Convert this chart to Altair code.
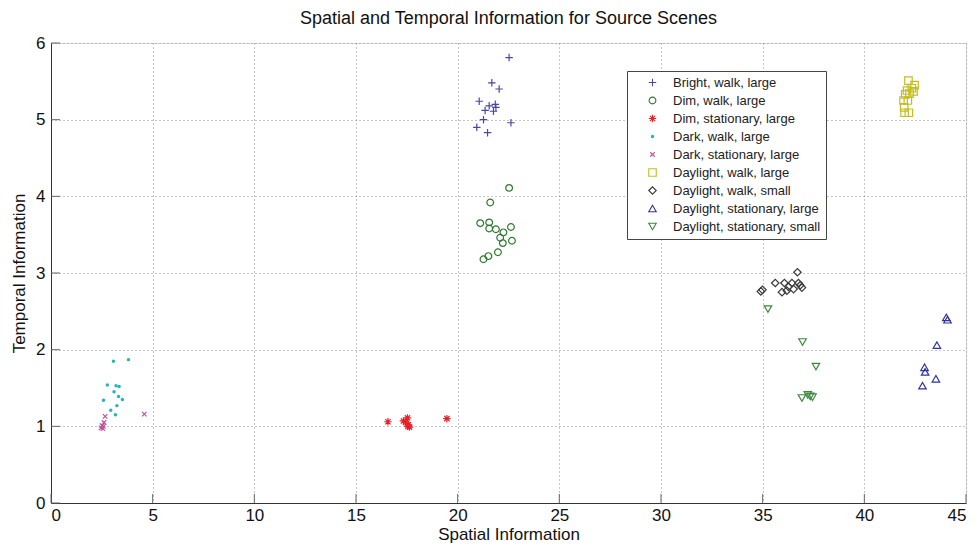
import altair as alt
import pandas as pd

series_names = [
    "Bright, walk, large",
    "Dim, walk, large",
    "Dim, stationary, large",
    "Dark, walk, large",
    "Dark, stationary, large",
    "Daylight, walk, large",
    "Daylight, walk, small",
    "Daylight, stationary, large",
    "Daylight, stationary, small",
]

bright_walk_x = [22.53, 21.68, 22.04, 21.06, 21.55, 21.85, 21.88, 21.35, 21.76, 21.27, 22.62, 20.94, 21.47]
bright_walk_y = [5.81, 5.48, 5.40, 5.24, 5.18, 5.20, 5.16, 5.12, 5.11, 5.00, 4.96, 4.90, 4.83]

dim_walk_x = [22.53, 21.60, 21.11, 21.55, 21.55, 21.88, 22.62, 22.25, 22.09, 22.67, 22.22, 21.98, 21.51, 21.27]
dim_walk_y = [4.11, 3.92, 3.65, 3.66, 3.58, 3.57, 3.60, 3.53, 3.46, 3.42, 3.39, 3.27, 3.22, 3.18]

dim_stat_x = [16.57, 17.33, 17.53, 17.45, 17.58, 17.63, 17.55, 19.47]
dim_stat_y = [1.06, 1.07, 1.11, 1.05, 1.02, 0.99, 1.00, 1.10]

dark_walk_x = [3.07, 3.81, 2.77, 3.20, 3.35, 3.10, 3.32, 3.51, 2.58, 3.24, 2.94, 3.17]
dark_walk_y = [1.85, 1.87, 1.54, 1.53, 1.52, 1.45, 1.39, 1.35, 1.34, 1.27, 1.21, 1.15]

dark_stat_x = [2.66, 2.61, 2.51, 2.46, 2.55, 2.58, 4.59]
dark_stat_y = [1.13, 1.05, 1.01, 0.98, 0.97, 1.00, 1.16]

day_walk_large_x = [42.17, 42.47, 42.34, 42.10, 42.42, 42.22, 42.01, 41.93, 42.14, 41.96, 41.98, 42.19]
day_walk_large_y = [5.51, 5.45, 5.41, 5.38, 5.37, 5.34, 5.33, 5.25, 5.25, 5.16, 5.09, 5.09]

day_walk_small_x = [36.71, 35.62, 36.07, 36.44, 36.76, 36.85, 36.27, 36.52, 35.95, 36.19, 34.91, 34.99, 36.93]
day_walk_small_y = [3.01, 2.87, 2.87, 2.87, 2.87, 2.84, 2.82, 2.79, 2.75, 2.77, 2.76, 2.78, 2.81]

day_stat_large_x = [44.03, 44.09, 43.57, 42.96, 42.99, 43.52, 42.86]
day_stat_large_y = [2.42, 2.39, 2.06, 1.77, 1.71, 1.62, 1.53]

day_stat_small_x = [35.26, 36.96, 37.62, 36.93, 37.22, 37.34, 37.45]
day_stat_small_y = [2.53, 2.10, 1.78, 1.37, 1.41, 1.39, 1.38]

x_ticks = [0, 5, 10, 15, 20, 25, 30, 35, 40, 45]
y_ticks = [0, 1, 2, 3, 4, 5, 6]

colors = ["#4848a8", "#2f7a2f", "#e8202a", "#1fb5b5", "#c0509a",
          "#c4bd1e", "#3a3a3a", "#3232a0", "#3b8a3b"]
shapes = [
    "M-1,0L1,0M0,-1L0,1",
    "M-0.9,0A0.9,0.9 0 1,0 0.9,0A0.9,0.9 0 1,0 -0.9,0Z",
    "M-1,0L1,0M0,-1L0,1M-0.7,-0.7L0.7,0.7M-0.7,0.7L0.7,-0.7",
    "M-0.3,0A0.3,0.3 0 1,0 0.3,0A0.3,0.3 0 1,0 -0.3,0Z"
    "M-0.12,0A0.12,0.12 0 1,0 0.12,0A0.12,0.12 0 1,0 -0.12,0Z",
    "M-0.6,-0.6L0.6,0.6M-0.6,0.6L0.6,-0.6",
    "square",
    "diamond",
    "triangle-up",
    "triangle-down",
]
SYM = 56

all_x = [bright_walk_x, dim_walk_x, dim_stat_x, dark_walk_x, dark_stat_x,
         day_walk_large_x, day_walk_small_x, day_stat_large_x, day_stat_small_x]
all_y = [bright_walk_y, dim_walk_y, dim_stat_y, dark_walk_y, dark_stat_y,
         day_walk_large_y, day_walk_small_y, day_stat_large_y, day_stat_small_y]

rows = []
for name, xs, ys in zip(series_names, all_x, all_y):
    for a, b in zip(xs, ys):
        rows.append({"series": name, "si": a, "ti": b})
df = pd.DataFrame(rows)

W, H = 915, 460
FONT = "Liberation Sans"

xscale = alt.Scale(domain=[0, 45], nice=False, zero=False)
yscale = alt.Scale(domain=[0, 6], nice=False, zero=False)

points = alt.Chart(df).mark_point(filled=False, strokeWidth=1.2, opacity=1, size=SYM).encode(
    x=alt.X("si:Q", scale=xscale, title="Spatial Information",
            axis=alt.Axis(values=x_ticks, format="d", grid=True, gridColor="#8a8a8a",
                          gridDash=[1, 3], gridWidth=1, tickSize=0, labelPadding=4,
                          domainColor="#333333", labelFontSize=17, titleFontSize=17,
                          titleFontWeight="normal", labelFont=FONT, titleFont=FONT,
                          labelColor="#111", titleColor="#111", titlePadding=3)),
    y=alt.Y("ti:Q", scale=yscale, title="Temporal Information",
            axis=alt.Axis(values=y_ticks, format="d", grid=True, gridColor="#8a8a8a",
                          gridDash=[1, 3], gridWidth=1, tickSize=0, labelPadding=6,
                          domainColor="#333333", labelFontSize=17, titleFontSize=17,
                          titleFontWeight="normal", labelFont=FONT, titleFont=FONT,
                          labelColor="#111", titleColor="#111", titlePadding=7)),
    color=alt.Color("series:N", scale=alt.Scale(domain=series_names, range=colors),
                    legend=alt.Legend(title=None, orient="none", legendX=576, legendY=28,
                                      strokeColor="#444444", fillColor="white", padding=5,
                                      labelFontSize=13, labelFont=FONT, labelColor="#222",
                                      rowPadding=4, symbolOffset=14, labelOffset=14,
                                      symbolStrokeWidth=1.1, symbolSize=SYM, cornerRadius=0,
                                      labelLimit=300)),
    shape=alt.Shape("series:N", scale=alt.Scale(domain=series_names, range=shapes)),
)

xt = pd.DataFrame({"v": x_ticks})
yt = pd.DataFrame({"v": y_ticks})

xtick_rules = alt.Chart(xt).mark_rule(color="#666666", strokeWidth=1).encode(
    x=alt.X("v:Q", scale=xscale), y=alt.value(H), y2=alt.value(H - 9))
ytick_rules = alt.Chart(yt).mark_rule(color="#666666", strokeWidth=1).encode(
    y=alt.Y("v:Q", scale=yscale), x=alt.value(0), x2=alt.value(9))

chart = alt.layer(points, xtick_rules, ytick_rules).properties(
    width=W, height=H,
    title=alt.Title("Spatial and Temporal Information for Source Scenes",
                    fontSize=18, font=FONT, fontWeight="normal", color="#111", offset=6),
    autosize=alt.AutoSizeParams(type="none"),
    padding={"left": 43, "top": 35, "right": 4, "bottom": 42},
).configure_view(stroke=None).configure(background="white")

chart.save("out.html", embed_options={"renderer": "svg", "actions": False})
